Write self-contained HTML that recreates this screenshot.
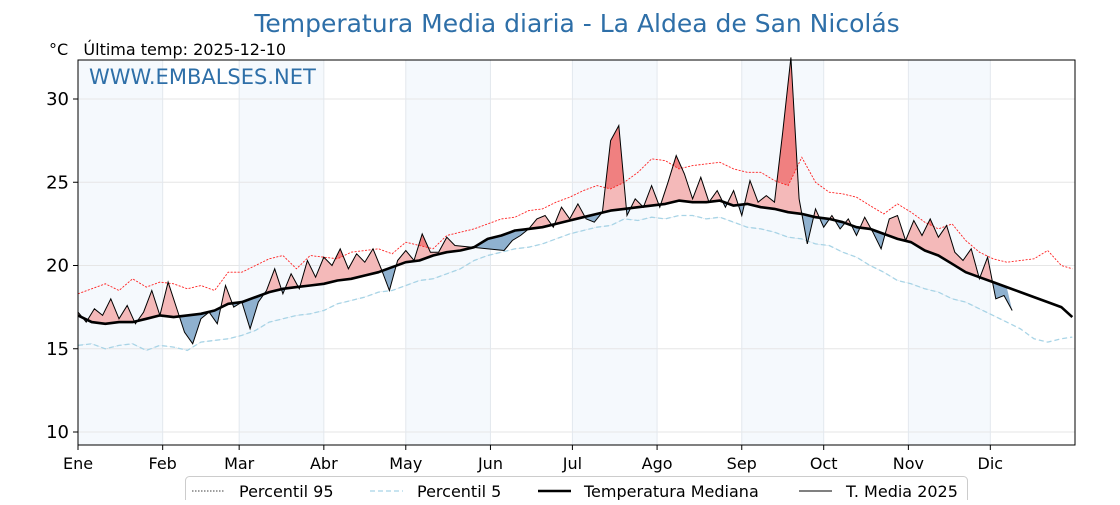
<!DOCTYPE html>
<html><head><meta charset="utf-8"><style>
body{margin:0;background:#fff;font-family:"Liberation Sans","DejaVu Sans",sans-serif}
svg text{font-family:"DejaVu Sans","Liberation Sans",sans-serif;white-space:pre}
</style></head><body>
<svg id="c" width="1120" height="500" xmlns="http://www.w3.org/2000/svg"></svg>
<script>
const months=["Ene","Feb","Mar","Abr","May","Jun","Jul","Ago","Sep","Oct","Nov","Dic"];
const monthStart=[0,31,59,90,120,151,181,212,243,273,304,334,365];
const yTicks=[10,15,20,25,30];
// 5-day sampled climatology (days 0,5,...,360,364)
const p95=[18.3,18.6,18.9,18.5,19.2,18.7,19.0,18.9,18.6,18.8,18.5,19.6,19.6,20.0,20.4,20.6,19.8,20.6,20.5,20.4,20.8,20.9,21.0,20.7,21.4,21.2,21.0,21.8,22.0,22.2,22.5,22.8,22.9,23.3,23.4,23.8,24.1,24.5,24.8,24.6,25.0,25.6,26.4,26.3,25.8,26.0,26.1,26.2,25.8,25.6,25.6,25.1,24.8,26.5,25.0,24.4,24.3,24.1,23.6,23.1,23.7,23.2,22.6,22.2,22.5,21.5,20.8,20.4,20.2,20.3,20.4,20.9,20.0,19.8];
const p5=[15.2,15.3,15.0,15.2,15.3,14.9,15.2,15.1,14.9,15.4,15.5,15.6,15.8,16.1,16.6,16.8,17.0,17.1,17.3,17.7,17.9,18.1,18.4,18.5,18.8,19.1,19.2,19.5,19.8,20.3,20.6,20.8,21.0,21.1,21.3,21.6,21.9,22.1,22.3,22.4,22.8,22.7,22.9,22.8,23.0,23.0,22.8,22.9,22.6,22.3,22.2,22.0,21.7,21.6,21.3,21.2,20.8,20.5,20.0,19.6,19.1,18.9,18.6,18.4,18.0,17.8,17.4,17.0,16.6,16.2,15.6,15.4,15.6,15.7];
const median=[17.0,16.6,16.5,16.6,16.6,16.8,17.0,16.9,17.0,17.1,17.3,17.7,17.8,18.1,18.4,18.6,18.7,18.8,18.9,19.1,19.2,19.4,19.6,19.9,20.2,20.3,20.6,20.8,20.9,21.1,21.6,21.8,22.1,22.2,22.3,22.5,22.7,22.9,23.1,23.3,23.4,23.5,23.6,23.7,23.9,23.8,23.8,23.9,23.6,23.7,23.5,23.4,23.2,23.1,22.9,22.8,22.6,22.3,22.2,21.9,21.6,21.4,20.9,20.6,20.1,19.6,19.3,19.0,18.7,18.4,18.1,17.8,17.5,16.9];
const t2025=[17.2,16.6,17.4,17.0,18.0,16.8,17.6,16.5,17.2,18.5,17.0,19.0,17.5,16.0,15.3,16.8,17.2,16.5,18.8,17.5,17.8,16.2,17.8,18.5,19.8,18.3,19.5,18.6,20.3,19.3,20.5,20.0,21.0,19.8,20.7,20.2,21.0,19.8,18.5,20.3,20.9,20.3,21.9,20.8,20.8,21.7,21.2,null,null,null,null,null,20.9,21.5,21.8,22.2,22.8,23.0,22.3,23.5,22.8,23.7,22.8,22.6,23.2,27.5,28.4,23.0,24.0,23.5,24.8,23.5,25.0,26.6,25.5,24.0,25.3,23.8,24.5,23.5,24.5,23.0,25.1,23.8,24.2,23.8,28.0,32.5,24.0,21.3,23.4,22.3,23.0,22.2,22.8,21.8,22.9,22.0,21.0,22.8,23.0,21.5,22.7,21.8,22.8,21.7,22.4,20.8,20.3,21.0,19.2,20.5,18.0,18.2,17.3];

const svg=document.getElementById('c');const NS="http://www.w3.org/2000/svg";
const L=78,R=1075,T=60,B=445;
const X=d=>L+d/365*(R-L);
const Y=v=>99+(30-v)*16.65;
function el(tag,attrs,parent){const e=document.createElementNS(NS,tag);for(const k in attrs)e.setAttribute(k,attrs[k]);(parent||svg).appendChild(e);return e;}
function climDay(i,arr){return i<arr.length-1?i*5:364;}
function pts(arr,dayf){const p=[];arr.forEach((v,i)=>{if(v!==null)p.push([X(dayf(i)),Y(v)]);});return p;}
const ptsStr=p=>p.map(q=>q[0].toFixed(1)+","+q[1].toFixed(1)).join(" ");

for(let m=0;m<12;m+=2){const r=el('rect',{x:X(monthStart[m]),y:T,width:X(monthStart[m+1])-X(monthStart[m]),height:B-T,fill:'#f5f9fd'});
}
yTicks.forEach(v=>{const g=el('line',{x1:L,x2:R,y1:Y(v),y2:Y(v),stroke:'#e6e6e6','stroke-width':1});});
for(let m=1;m<12;m++){const g=el('line',{x1:X(monthStart[m]),x2:X(monthStart[m]),y1:T,y2:B,stroke:'#e3e8ee','stroke-width':1});}

const medP=pts(median,i=>climDay(i,median));
const p95P=pts(p95,i=>climDay(i,p95));
const p5P=pts(p5,i=>climDay(i,p5));
const tP=pts(t2025,i=>i*3);
const defs=el('defs',{});
function clip(id,p,edge){const c=el('clipPath',{id:id},defs);el('polygon',{points:ptsStr([[p[0][0],edge],...p,[p[p.length-1][0],edge]])},c);}
clip('aboveMed',medP,T-20);clip('belowMed',medP,B+20);clip('aboveP95',p95P,T-20);clip('belowP5',p5P,B+20);
const tLast=tP[tP.length-1][0];
const medRev=medP.filter(q=>q[0]<=tLast+0.1).reverse();
const areaTM=ptsStr([...tP,...medRev]);
let a=el('polygon',{points:areaTM,fill:'#f4b9b9','clip-path':'url(#aboveMed)'});
a=el('polygon',{points:areaTM,fill:'#8fb1cf','clip-path':'url(#belowMed)'});
const p95Rev=p95P.filter(q=>q[0]<=tLast+5).reverse();
a=el('polygon',{points:ptsStr([...tP,...p95Rev]),fill:'#f08080','clip-path':'url(#aboveP95)'});
const p5Rev=p5P.filter(q=>q[0]<=tLast+5).reverse();
a=el('polygon',{points:ptsStr([...tP,...p5Rev]),fill:'#3a75a8','clip-path':'url(#belowP5)'});

let l=el('polyline',{points:ptsStr(p95P),fill:'none',stroke:'#ff2020','stroke-width':0.9,'stroke-dasharray':'2,1.5'});
l=el('polyline',{points:ptsStr(p5P),fill:'none',stroke:'#a8d4e6','stroke-width':1.3,'stroke-dasharray':'5,3'});
l=el('polyline',{points:ptsStr(medP),fill:'none',stroke:'#000','stroke-width':2.6,'stroke-linejoin':'round'});
l=el('polyline',{points:ptsStr(tP),fill:'none',stroke:'#000','stroke-width':1});

let f=el('rect',{x:L,y:T,width:R-L,height:B-T,fill:'none',stroke:'#000','stroke-width':1});
yTicks.forEach(v=>{el('line',{x1:L-5,x2:L,y1:Y(v),y2:Y(v),stroke:'#000'});const t=el('text',{x:L-9,y:Y(v)+6,'text-anchor':'end','font-size':18,fill:'#000'});t.textContent=v;});
months.forEach((m,i)=>{const x=X(monthStart[i]);el('line',{x1:x,x2:x,y1:B,y2:B+5,stroke:'#000'});const t=el('text',{x:x,y:469,'text-anchor':'middle','font-size':16,fill:'#000'});t.textContent=m;});

let t=el('text',{x:577,y:32,'text-anchor':'middle','font-size':25,fill:'#2e6fa8'});t.textContent='Temperatura Media diaria - La Aldea de San Nicolás';
t=el('text',{x:49,y:55,'font-size':16,fill:'#000'});t.textContent='°C   Última temp: 2025-12-10';
t=el('text',{x:89,y:84,'font-size':21,fill:'#2e6fa8'});t.textContent='WWW.EMBALSES.NET';

const lg=el('g',{});
el('rect',{x:185.5,y:476.5,width:782,height:30,rx:4,fill:'#fff',stroke:'#ccc'},lg);
const items=[[192,239,'Percentil 95',{stroke:'#000','stroke-width':0.8,'stroke-dasharray':'1.5,1.5'}],[370,417,'Percentil 5',{stroke:'#a8d4e6','stroke-width':1.3,'stroke-dasharray':'5,3'}],[538,584,'Temperatura Mediana',{stroke:'#000','stroke-width':2.6}],[799,846,'T. Media 2025',{stroke:'#000','stroke-width':1}]];
items.forEach(it=>{const g=el('g',{},lg);
el('line',Object.assign({x1:it[0],x2:it[0]+33,y1:491,y2:491},it[3]),g);const tx=el('text',{x:it[1],y:497,'font-size':16,fill:'#000'},g);tx.textContent=it[2];});
</script>
</body></html>
